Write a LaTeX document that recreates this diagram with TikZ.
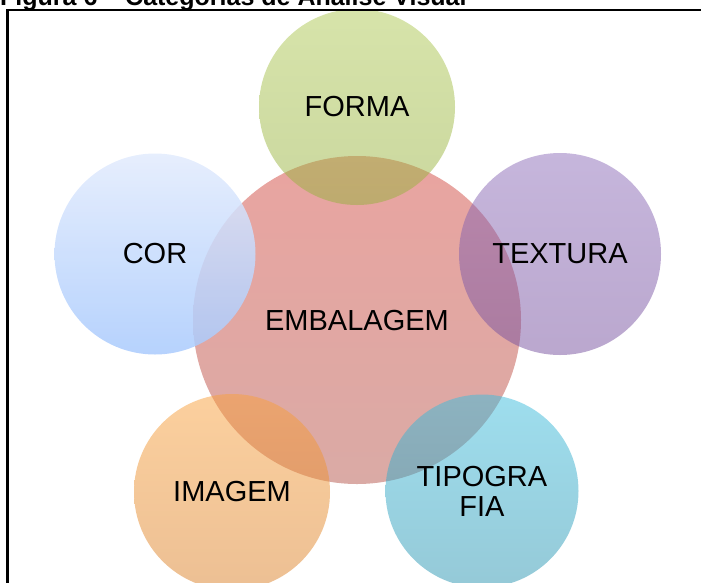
\documentclass[tikz,border=0pt]{standalone}
\usepackage{fontspec}
\setmainfont{Liberation Sans}
\definecolor{embT}{RGB}{233,164,160}
\definecolor{embB}{RGB}{218,170,165}
\definecolor{forT}{RGB}{175,201,85}
\definecolor{forB}{RGB}{150,176,62}
\definecolor{corT}{RGB}{226,235,253}
\definecolor{corB}{RGB}{169,202,253}
\definecolor{texT}{RGB}{141,109,185}
\definecolor{texB}{RGB}{118,80,158}
\definecolor{imgT}{RGB}{249,161,61}
\definecolor{imgB}{RGB}{218,128,40}
\definecolor{tipT}{RGB}{61,189,221}
\definecolor{tipB}{RGB}{43,148,176}
\tikzset{
  bubble/.style={circle, inner sep=0pt, align=center, text=black,
    font=\fontsize{29}{30}\selectfont, text opacity=1},
  outer/.style={bubble, fill opacity=0.5},
}
\begin{document}
\begin{tikzpicture}[x=1pt,y=-1pt]
\useasboundingbox (0,0) rectangle (701,582);
\clip (0,0) rectangle (701,582);
% center
\node[bubble, minimum size=328pt, top color=embT, bottom color=embB] (emb) at (357,320) {};
% outer circles
\node[outer, minimum size=196pt, top color=forT, bottom color=forB] (forma) at (357,107) {FORMA};
\node[bubble, fill opacity=0.85, minimum size=201pt, top color=corT, bottom color=corB] (cor) at (155,254) {COR};
\node[outer, minimum size=202pt, top color=texT, bottom color=texB] (tex) at (560,254) {TEXTURA};
\node[outer, minimum size=196pt, top color=imgT, bottom color=imgB] (img) at (232,492) {IMAGEM};
\node[outer, minimum size=193pt, top color=tipT, bottom color=tipB] (tip) at (482,491) {TIPOGRA\\FIA};
% center label on top
\node[font=\fontsize{29}{30}\selectfont, text=black] (embl) at (357,321) {EMBALAGEM};
% frame and title
\draw[line width=2.5pt] (7.5,620) -- (7.5,10) -- (720,10);
\node[anchor=base west, inner sep=0pt, font=\fontsize{25}{27}\selectfont\bfseries] (title) at (0,5) {Figura 6 -- Categorias de Análise Visual};
\end{tikzpicture}
\end{document}
